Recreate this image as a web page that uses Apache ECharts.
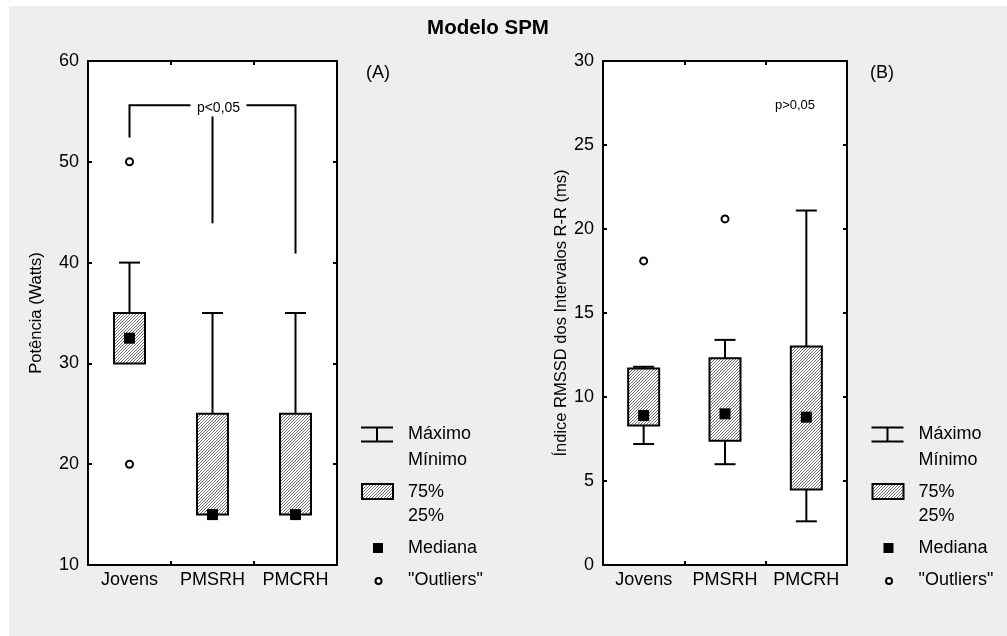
<!DOCTYPE html>
<html>
<head>
<meta charset="utf-8">
<script src="https://cdn.jsdelivr.net/npm/echarts@6/dist/echarts.min.js"></script>
<style>
  html, body { margin: 0; padding: 0; background: #ffffff; }
  #panel { position: absolute; left: 9px; top: 6px; width: 998px; height: 630px; background: #eeeeee; }
  #chart { position: absolute; left: 0; top: 0; width: 1007px; height: 636px; }
</style>
</head>
<body>
<div id="panel"></div>
<div id="chart"></div>
<script>
// Groups on the horizontal axis of both panels
const categories = ['Jovens', 'PMSRH', 'PMCRH'];

// Box summaries per group: [min, q1, median, q3, max]
const potenciaBoxes = [
  [30, 30, 32.5, 35, 40],
  [15, 15, 15, 25, 35],
  [15, 15, 15, 25, 35]
];
const potenciaOutliers = [[0, 50], [0, 20]];

const rmssdBoxes = [
  [7.2, 8.3, 8.9, 11.7, 11.8],
  [6.0, 7.4, 9.0, 12.3, 13.4],
  [2.6, 4.5, 8.8, 13.0, 21.1]
];
const rmssdOutliers = [[0, 18.1], [1, 20.6]];

// Significance bracket in panel A (values on the Potência scale)
const bracketTop = 55.6;
const bracketLegBottoms = [52.4, 43.9, 40.9];
const bracketMiddleTop = 54.5;

const FONT = '"Liberation Sans", Arial, Helvetica, sans-serif';

// Diagonal hatch used to fill the interquartile boxes
function makeHatch() {
  const c = document.createElement('canvas');
  c.width = 3; c.height = 3;
  const g = c.getContext('2d');
  g.fillStyle = '#ffffff';
  g.fillRect(0, 0, 3, 3);
  g.fillStyle = '#707070';
  g.fillRect(0, 2, 1, 1);
  g.fillRect(1, 1, 1, 1);
  g.fillRect(2, 0, 1, 1);
  return c;
}
const hatch = { image: makeHatch(), repeat: 'repeat' };

const BOX_W = 31, CAP_W = 21, MED = 11;
const LINE = { stroke: '#000', lineWidth: 2 };

function renderBox(params, api) {
  const i = api.value(0);
  const pMin = api.coord([i, api.value(1)]);
  const pQ1 = api.coord([i, api.value(2)]);
  const pMed = api.coord([i, api.value(3)]);
  const pQ3 = api.coord([i, api.value(4)]);
  const pMax = api.coord([i, api.value(5)]);
  const cx = pMin[0];
  const kids = [];
  if (pQ3[1] - pMax[1] > 0.5) {
    kids.push({ type: 'line', shape: { x1: cx, y1: pQ3[1], x2: cx, y2: pMax[1] }, style: LINE });
    kids.push({ type: 'line', shape: { x1: cx - CAP_W / 2, y1: pMax[1], x2: cx + CAP_W / 2, y2: pMax[1] }, style: LINE });
  }
  if (pMin[1] - pQ1[1] > 0.5) {
    kids.push({ type: 'line', shape: { x1: cx, y1: pQ1[1], x2: cx, y2: pMin[1] }, style: LINE });
    kids.push({ type: 'line', shape: { x1: cx - CAP_W / 2, y1: pMin[1], x2: cx + CAP_W / 2, y2: pMin[1] }, style: LINE });
  }
  kids.push({
    type: 'rect',
    shape: { x: cx - BOX_W / 2, y: pQ3[1], width: BOX_W, height: pQ1[1] - pQ3[1] },
    style: { fill: hatch, stroke: '#000', lineWidth: 2 }
  });
  kids.push({
    type: 'rect',
    shape: { x: cx - MED / 2, y: pMed[1] - MED / 2, width: MED, height: MED },
    style: { fill: '#000' }
  });
  return { type: 'group', children: kids };
}

function renderBracket(params, api) {
  const pL = api.coord([0, bracketTop]);
  const pM = api.coord([1, bracketTop]);
  const pR = api.coord([2, bracketTop]);
  const yTop = pL[1];
  const yL = api.coord([0, bracketLegBottoms[0]])[1];
  const yMt = api.coord([1, bracketMiddleTop])[1];
  const yMb = api.coord([1, bracketLegBottoms[1]])[1];
  const yR = api.coord([2, bracketLegBottoms[2]])[1];
  const tx = pM[0] + 6;
  return {
    type: 'group',
    children: [
      { type: 'polyline', shape: { points: [[pL[0], yL], [pL[0], yTop], [tx - 28, yTop]] }, style: Object.assign({ fill: null }, LINE) },
      { type: 'polyline', shape: { points: [[tx + 28, yTop], [pR[0], yTop], [pR[0], yR]] }, style: Object.assign({ fill: null }, LINE) },
      { type: 'line', shape: { x1: pM[0], y1: yMt, x2: pM[0], y2: yMb }, style: LINE },
      { type: 'text', style: { x: tx, y: yTop + 3, text: 'p<0,05', fill: '#000', font: '14px ' + FONT, textAlign: 'center', textVerticalAlign: 'middle' } }
    ]
  };
}

function boxData(rows) {
  return rows.map((r, i) => [i].concat(r));
}

const axisLine = { show: true, onZero: false, lineStyle: { color: '#000', width: 2 } };
const axisTick = { show: true, inside: true, length: 4, lineStyle: { color: '#000', width: 2 } };
const labelStyle = { color: '#000', fontSize: 18, fontFamily: FONT };

function xAxes(grid) {
  return [
    { gridIndex: grid, type: 'category', data: categories, position: 'bottom', axisLine, axisTick,
      axisLabel: Object.assign({ margin: 6, interval: 0, hideOverlap: false }, labelStyle), splitLine: { show: false } },
    { gridIndex: grid, type: 'category', data: categories, position: 'top', axisLine, axisTick,
      axisLabel: { show: false }, splitLine: { show: false } }
  ];
}
function yAxes(grid, min, max, interval, name, gap) {
  return [
    { gridIndex: grid, type: 'value', min, max, interval, position: 'left', axisLine, axisTick,
      axisLabel: Object.assign({ margin: 9 }, labelStyle), splitLine: { show: false },
      name, nameLocation: 'middle', nameRotate: 90, nameGap: gap,
      nameTextStyle: { color: '#000', fontSize: 16.5, fontFamily: FONT } },
    { gridIndex: grid, type: 'value', min, max, interval, position: 'right', axisLine, axisTick,
      axisLabel: { show: false }, splitLine: { show: false } }
  ];
}

function legend(x0) {
  const t = (x, y, s) => ({ type: 'text', style: { x, y, text: s, fill: '#000', font: '18px ' + FONT, textVerticalAlign: 'middle' } });
  const tx = x0 + 47;
  return [
    { type: 'line', shape: { x1: x0, y1: 427.5, x2: x0 + 32, y2: 427.5 }, style: LINE },
    { type: 'line', shape: { x1: x0, y1: 441.5, x2: x0 + 32, y2: 441.5 }, style: LINE },
    { type: 'line', shape: { x1: x0 + 16, y1: 427.5, x2: x0 + 16, y2: 441.5 }, style: LINE },
    t(tx, 434, 'Máximo'),
    t(tx, 460, 'Mínimo'),
    { type: 'rect', shape: { x: x0 + 1, y: 484, width: 31, height: 15 }, style: { fill: hatch, stroke: '#000', lineWidth: 2 } },
    t(tx, 492, '75%'),
    t(tx, 516, '25%'),
    { type: 'rect', shape: { x: x0 + 12, y: 543, width: 10, height: 10 }, style: { fill: '#000' } },
    t(tx, 548, 'Mediana'),
    { type: 'circle', shape: { cx: x0 + 17.5, cy: 581, r: 3 }, style: { fill: '#fff', stroke: '#000', lineWidth: 2 } },
    t(tx, 580, '"Outliers"')
  ];
}

const chart = echarts.init(document.getElementById('chart'), null, { renderer: 'canvas' });

const outlierStyle = { color: '#fff', borderColor: '#000', borderWidth: 2, opacity: 1 };

function label(x, y, s, font) {
  return { type: 'text', x: 0, y: 0, style: { x, y, text: s, fill: '#000', font: font + ' ' + FONT, textAlign: 'center', textVerticalAlign: 'middle' } };
}

chart.setOption({
  animation: false,
  backgroundColor: 'transparent',
  grid: [
    { left: 88, top: 61, width: 249, height: 504, show: true, backgroundColor: '#fff', borderWidth: 0 },
    { left: 603, top: 61, width: 244, height: 504, show: true, backgroundColor: '#fff', borderWidth: 0 }
  ],
  xAxis: xAxes(0).concat(xAxes(1)),
  yAxis: yAxes(0, 10, 60, 10, 'Potência (Watts)', 43).concat(yAxes(1, 0, 30, 5, 'Índice RMSSD dos Intervalos R-R (ms)', 32)),
  series: [
    { type: 'custom', xAxisIndex: 0, yAxisIndex: 0, renderItem: renderBox, data: boxData(potenciaBoxes), z: 3 },
    { type: 'scatter', xAxisIndex: 0, yAxisIndex: 0, data: potenciaOutliers, symbol: 'circle', symbolSize: 7, itemStyle: outlierStyle, z: 4 },
    { type: 'custom', xAxisIndex: 0, yAxisIndex: 0, renderItem: renderBracket, data: [[1, bracketTop]], z: 3 },
    { type: 'custom', xAxisIndex: 2, yAxisIndex: 2, renderItem: renderBox, data: boxData(rmssdBoxes), z: 3 },
    { type: 'scatter', xAxisIndex: 2, yAxisIndex: 2, data: rmssdOutliers, symbol: 'circle', symbolSize: 7, itemStyle: outlierStyle, z: 4 }
  ],
  graphic: [
    label(488, 28, 'Modelo SPM', 'bold 20.5px'),
    label(378, 73, '(A)', '18px'),
    label(882, 73, '(B)', '18px'),
    label(795, 105, 'p>0,05', '13px')
  ].concat(legend(361), legend(871.5))
});
</script>
</body>
</html>
